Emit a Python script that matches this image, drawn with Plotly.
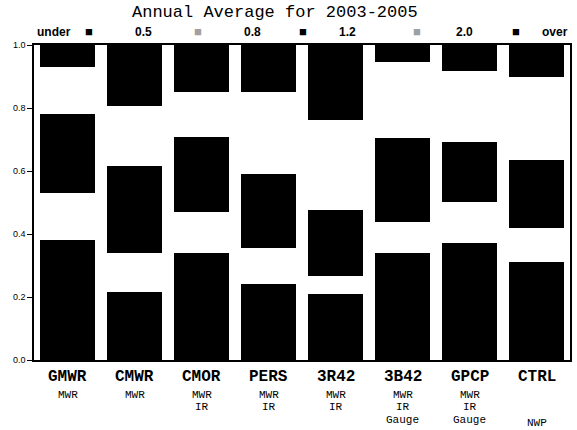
import plotly.graph_objects as go

# ---- data ----
products = ["GMWR", "CMWR", "CMOR", "PERS", "3R42", "3B42", "GPCP", "CTRL"]
inputs = [["MWR"], ["MWR"], ["MWR", "IR"], ["MWR", "IR"], ["MWR", "IR"],
          ["MWR", "IR", "Gauge"], ["MWR", "IR", "Gauge"], ["NWP"]]
class_names = ["under 0.5", "0.5-0.8", "0.8-1.2", "1.2-2.0", "over 2.0"]
legend_labels = ["under", "0.5", "0.8", "1.2", "2.0", "over"]
under_05 = [0.38, 0.215, 0.34, 0.24, 0.211, 0.34, 0.371, 0.311]
r05_08 = [0.15, 0.125, 0.13, 0.115, 0.057, 0.098, 0.131, 0.108]
r08_12 = [0.25, 0.275, 0.237, 0.237, 0.208, 0.267, 0.19, 0.216]
r12_20 = [0.15, 0.19, 0.143, 0.258, 0.287, 0.241, 0.225, 0.263]
over_20 = [0.07, 0.195, 0.15, 0.15, 0.237, 0.054, 0.083, 0.102]
y_ticks = [0.0, 0.2, 0.4, 0.6, 0.8, 1.0]

series = [under_05, r05_08, r08_12, r12_20, over_20]
colors = ["#000000", "#ffffff", "#000000", "#ffffff", "#000000"]

W, H = 577, 430
L, R, T, B = 34, 5, 45, 70
pw, ph = W - L - R, H - T - B


def px(x):
    return (x - L) / pw


def py(y):
    return (H - B - y) / ph


fig = go.Figure()
for name, vals, c in zip(class_names, series, colors):
    fig.add_trace(go.Bar(x=products, y=vals, name=name,
                         marker=dict(color=c, line=dict(width=0)),
                         showlegend=False))

mono = "Liberation Mono, Courier New, monospace"
sans = "Liberation Sans, Arial, sans-serif"

annotations = []
# title
annotations.append(dict(text="Annual Average for 2003-2005", x=px(276), y=py(13),
                        xref="paper", yref="paper", showarrow=False,
                        font=dict(family=mono, size=17, color="black"),
                        xanchor="center", yanchor="middle"))
# legend row
lab_x = [54, 144, 253, 349, 466, 557]
sw_x = [89, 199, 304, 418, 518]
sw_col = ["#000000", "#a0a0a0", "#000000", "#a0a0a0", "#000000"]
for t, x in zip(legend_labels, lab_x):
    annotations.append(dict(text="<b>%s</b>" % t, x=px(x), y=py(32), xref="paper", yref="paper",
                            showarrow=False, font=dict(family=sans, size=12, color="black"),
                            xanchor="center", yanchor="middle"))
for x, c in zip(sw_x, sw_col):
    annotations.append(dict(text="■", x=px(x), y=py(32), xref="paper", yref="paper",
                            showarrow=False, font=dict(family=sans, size=13, color=c),
                            xanchor="center", yanchor="middle"))
# category labels
sub_y = [395, 407, 420]
for p, subs in zip(products, inputs):
    annotations.append(dict(text="<b>%s</b>" % p, x=p, y=py(377), xref="x", yref="paper",
                            showarrow=False, font=dict(family=mono, size=16, color="black"),
                            xanchor="center", yanchor="middle"))
    if p == "CTRL":
        ys = [423]
    else:
        ys = sub_y[:len(subs)]
    for s, yy in zip(subs, ys):
        annotations.append(dict(text=s, x=p, y=py(yy), xref="x", yref="paper",
                                showarrow=False, font=dict(family=mono, size=11, color="black"),
                                xanchor="center", yanchor="middle"))

fig.update_layout(
    width=W, height=H, barmode="stack", bargap=0.18,
    margin=dict(l=L, r=R, t=T, b=B, pad=0),
    paper_bgcolor="white", plot_bgcolor="white",
    annotations=annotations,
    xaxis=dict(showticklabels=False, ticks="", showline=True, linecolor="black",
               linewidth=1.5, mirror=True, showgrid=False, zeroline=False),
    yaxis=dict(range=[0, 1], tickvals=y_ticks, ticktext=["%.1f" % v for v in y_ticks],
               ticks="outside", ticklen=5, tickcolor="black", tickwidth=1.2,
               showline=True, linecolor="black", linewidth=1.5, mirror=True,
               showgrid=False, zeroline=False,
               tickfont=dict(family=sans, size=9, color="black")),
)

fig.write_html("out.html", config={"displayModeBar": False},
               post_script="document.body.style.margin='0';document.body.style.overflow='hidden';")
